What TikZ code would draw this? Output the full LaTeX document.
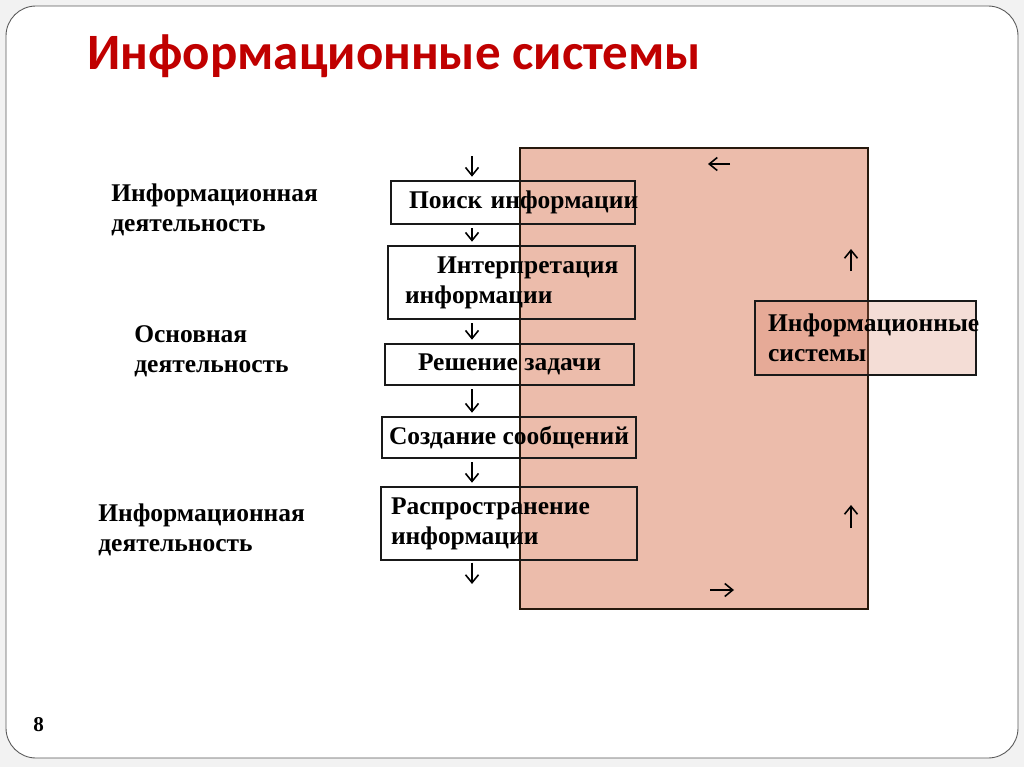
\documentclass[tikz,border=0pt]{standalone}
\usepackage{fontspec}
\setmainfont{Liberation Serif}
\newfontfamily\ttlfont{Carlito}
\usetikzlibrary{arrows.meta, positioning, calc}
\definecolor{envfill}{RGB}{236,188,171}
\definecolor{isfill}{RGB}{215,120,95}
\definecolor{ttlred}{RGB}{192,0,0}
\tikzset{
  frm/.style = {draw=black!65, fill=white, line width=0.5pt, rounded corners=0.6cm},
  ttl/.style = {font=\ttlfont\bfseries\fontsize{29}{33}\selectfont, text=ttlred,
    inner sep=0pt},
  env/.style = {draw=black!80!brown, fill=envfill, line width=1.1pt, inner sep=0pt},
  blk/.style = {draw=black!90, line width=0.9pt, inner sep=0pt,
    font=\bfseries\fontsize{14.5}{17}\selectfont},
  isb/.style = {draw=black!90, fill=isfill, fill opacity=0.25, text opacity=1,
    line width=0.9pt, inner sep=0pt, align=left,
    font=\bfseries\fontsize{14.5}{17}\selectfont},
  lbl/.style = {font=\bfseries\fontsize{14.5}{17}\selectfont, align=left,
    inner sep=0pt},
  flow/.style = {-{Straight Barb[length=1.6mm, width=2.6mm]}, line width=0.9pt},
  pgn/.style = {font=\bfseries\fontsize{12}{14}\selectfont, inner sep=0pt}
}

\begin{document}
\begin{tikzpicture}[x=0.02cm, y=-0.02cm]
  \fill [black!5] (0,0) rectangle (1024,767);
  \useasboundingbox (0,0) rectangle (1024,767);
  \draw [frm] (6,6) rectangle (1018,758);
  \node [ttl, anchor=base west] (title) at (87,70) {Информационные системы};
  \node [env, minimum width=6.96cm, minimum height=9.22cm] (sys) at (694,378.5) {};
  \node [blk, minimum width=4.88cm, minimum height=0.86cm, text width=4.16cm, align=left]
    (b1) at (513,202.5) {Поиск~информации};
  \node [blk, minimum width=4.94cm, minimum height=1.46cm, text width=4.26cm, align=left]
    (b2) at (511.5,282.5) {\hspace*{0.64cm}Интерпретация\\информации};
  \node [blk, minimum width=4.98cm, minimum height=0.82cm, align=center]
    (b3) at (509.5,364.5) {Решение задачи};
  \node [blk, minimum width=5.08cm, minimum height=0.82cm, align=center]
    (b4) at (509,437.5) {Создание~сообщений};
  \node [blk, minimum width=5.12cm, minimum height=1.46cm, text width=4.72cm, align=left]
    (b5) at (509,523.5) {Распространение\\информации};
  \coordinate (src) at (472,156);
  \coordinate (snk) at (472,584);
  \draw [flow, shorten >=2pt] (src) -- (src |- b1.north);
  \foreach \a/\b in {b1/b2, b2/b3, b3/b4, b4/b5}
    \draw [flow, shorten <=2pt, shorten >=2pt] (src |- \a.south) -- (src |- \b.north);
  \draw [flow, shorten <=1pt] (src |- b5.south) -- (snk);
  \draw [flow] (730,164) -- (708,164);
  \draw [flow] (851,271) -- (851,249);
  \draw [flow] (851,528) -- (851,505);
  \draw [flow] (710,590) -- (734,590);
  \node [isb, minimum width=4.42cm, minimum height=1.48cm, text width=3.9cm]
    (is) at (865.5,338) {Информационные\\системы};
  \node [lbl, anchor=base west] (l1) at (111,231) {Информационная\\деятельность};
  \node [lbl, anchor=base west] (l2) at (134,372) {Основная\\деятельность};
  \node [lbl, anchor=base west] (l3) at (98,551) {Информационная\\деятельность};
  \node [pgn, anchor=base west] (pg) at (33,731) {8};
\end{tikzpicture}
\end{document}
